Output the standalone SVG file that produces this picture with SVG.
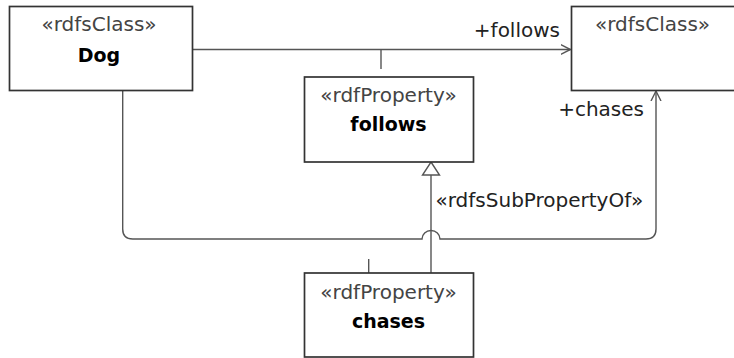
<svg xmlns="http://www.w3.org/2000/svg" width="734" height="358" viewBox="0 0 734 358">
<style>
.box{fill:#fff;stroke:#333;stroke-width:1.7}
.st{font-family:"DejaVu Sans",Verdana,sans-serif;font-size:20px;fill:#444;text-anchor:middle}
.nm{font-family:"DejaVu Sans",Verdana,sans-serif;font-size:19px;font-weight:bold;fill:#000;text-anchor:middle}
.lbl{font-family:"DejaVu Sans",Verdana,sans-serif;font-size:20px;fill:#222}
.ln{fill:none;stroke:#555;stroke-width:1.4}
</style>
<defs>
<marker id="open" markerWidth="12" markerHeight="12" refX="10" refY="6" orient="auto" markerUnits="userSpaceOnUse">
<path d="M0,1 L10,6 L0,11" fill="none" stroke="#555" stroke-width="1.4"/>
</marker>
</defs>
<rect width="734" height="358" fill="#fff"/>
<g id="connectors">
<path class="ln" d="M192,49.5 H570.5" marker-end="url(#open)"/>
<path class="ln" d="M381,49.5 V69"/>
<path class="ln" d="M122.7,90.5 V229 Q122.7,239 132.7,239 H422 A9,8.5 0 0 1 440,239 H646 Q656,239 656,229 V91" marker-end="url(#open)"/>
<path class="ln" d="M368.7,259 V273"/>
<path class="ln" d="M431,273 V175"/>
<path d="M431,162 L439.5,175 L422.5,175 Z" fill="#fff" stroke="#555" stroke-width="1.4"/>
<text class="lbl" x="560" y="37" text-anchor="end">+follows</text>
<text class="lbl" x="644" y="116" text-anchor="end">+chases</text>
<text class="lbl" x="435.5" y="207">«rdfsSubPropertyOf»</text>
</g>
<g id="dog">
<rect class="box" x="9.5" y="6.5" width="183" height="84"/>
<text class="st" x="99" y="31">«rdfsClass»</text>
<text class="nm" x="99" y="62">Dog</text>
</g>
<g id="rangeClass">
<rect class="box" x="571.5" y="6.5" width="170" height="84"/>
<text class="st" x="652.5" y="31">«rdfsClass»</text>
</g>
<g id="follows">
<rect class="box" x="304.5" y="77" width="169" height="85"/>
<text class="st" x="388.5" y="101.5">«rdfProperty»</text>
<text class="nm" x="388.5" y="131">follows</text>
</g>
<g id="chases">
<rect class="box" x="304.5" y="273" width="169" height="84"/>
<text class="st" x="388.5" y="299">«rdfProperty»</text>
<text class="nm" x="388.5" y="328">chases</text>
</g>
</svg>
